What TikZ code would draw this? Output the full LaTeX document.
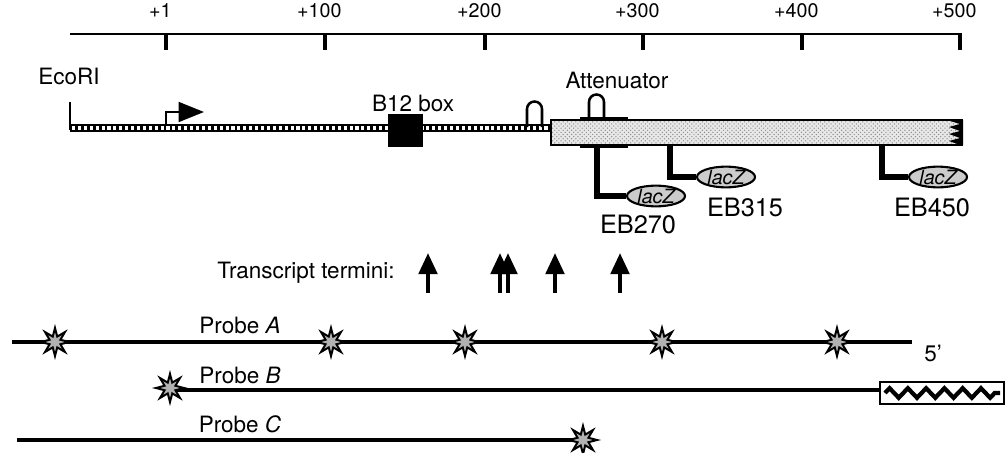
\documentclass[tikz,border=0pt]{standalone}
\usepackage{fontspec}
\setmainfont{TeX Gyre Heros}
\usepackage{tikz}
\usetikzlibrary{arrows.meta,positioning,shapes.geometric,patterns,decorations.pathmorphing}

\begin{document}
\begin{tikzpicture}[
  x=0.025cm, y=-0.025cm,
  axisfont/.style={font=\fontsize{14}{16}\selectfont},
  lbl/.style={font=\fontsize{16}{19}\selectfont, inner sep=0pt},
  eblbl/.style={font=\fontsize{18}{21}\selectfont, inner sep=0pt},
  lacz/.style={draw, ellipse, line width=1.5pt, fill=gray!40, minimum width=1.45cm, minimum height=0.46cm, inner sep=0pt, font=\itshape\fontsize{14}{16}\selectfont},
  fusion/.style={line width=4pt},
  hairpin/.style={line width=1.8pt},
  probe/.style={line width=3.3pt},
  label32/.style={draw, star, star points=8, star point ratio=2.4, minimum size=20pt, inner sep=0pt, fill=gray!60, line width=1.4pt},
  termarrow/.style={line width=3pt, -{Triangle[width=13pt, length=15pt]}}
]
\useasboundingbox (0,0) rectangle (1006,453);

% coordinate axis
\draw[line width=1.6pt] (70,34) -- (962,34);
\foreach \x/\t in {166/+1, 325/+100, 485/+200, 643/+300, 802/+400, 960/+500}
  \draw[line width=2.2pt] (\x,34) -- (\x,50) node[axisfont, pos=0, above=7pt, xshift=-4pt] {\t};

% upstream DNA
\node[lbl] (ecori) at (69,76) {EcoRI};
\draw[line width=1.4pt] (70,102) -- (70,130);
\draw[line width=5pt] (70,128) -- (552,128);
\draw[line width=2.2pt, white, dash pattern=on 2.2pt off 2pt] (72,128) -- (550,128);
\draw[line width=1.8pt, -{Triangle[width=14pt, length=18pt]}] (166,126) -- (166,112) -- (204,112);
\fill (388,114) rectangle (423,147);
\node[lbl] (b12) at (413,103) {B12 box};
\draw[hairpin] (527,127) -- (527,109) arc[start angle=180, end angle=360, radius=7.5] -- (542,127);

% gene
\fill[gray!18] (551,120) rectangle (963,145);
\fill[pattern=crosshatch dots, pattern color=gray!90] (551,120) rectangle (963,145);
\fill (963,120) -- (947,120) -- (960,124) -- (949,127) -- (960,131) -- (949,134) -- (960,138) -- (949,141) -- (960,145) -- (963,145) -- cycle;
\draw[line width=1.6pt] (963,120) -- (551,120) -- (551,145) -- (963,145);
\draw[line width=3.2pt] (580,119) -- (628,119) (580,146) -- (628,146);
\draw[hairpin] (589,117) -- (589,102) arc[start angle=180, end angle=360, radius=7.5] -- (604,117);
\node[lbl] (atten) at (617,80) {Attenuator};

% lacZ fusions
\node[lacz] (lacz270) at (656,196) {lacZ};
\node[lacz] (lacz315) at (726,177) {lacZ};
\node[lacz] (lacz450) at (938,177) {lacZ};
\draw[fusion] (597,147) |- (lacz270.west);
\draw[fusion] (670,146) |- (lacz315.west);
\draw[fusion] (882,146) |- (lacz450.west);
\node[eblbl] (eb270) at (638,224) {EB270};
\node[eblbl] (eb315) at (745,207) {EB315};
\node[eblbl] (eb450) at (932,207) {EB450};

% transcript termini
\node[lbl] (termini) at (306,273) {Transcript termini:};
\foreach \x in {428,500,508,555,620}
  \draw[termarrow] (\x,293) -- (\x,253);

% probes
\draw[probe] (12,342) -- (912,342);
\foreach \x in {55,331,465,662,837}
  \node[label32] at (\x,342) {};
\node[lbl] (probeA) at (240,325) {Probe \textit{A}};
\node[lbl] (fiveend) at (933,353) {5'};

\draw[probe] (170,390) -- (880,390);
\node[label32] (starB) at (170,388) {};
\draw[line width=1.8pt, fill=white] (880,382) rectangle (1004,404);
\draw[line width=3pt, decorate, decoration={zigzag, segment length=13pt, amplitude=3.4pt}] (885,393) -- (1000,393);
\node[lbl] (probeB) at (240,375) {Probe \textit{B}};

\draw[probe] (17,440) -- (583,440);
\node[label32] (starC) at (583,440) {};
\node[lbl] (probeC) at (240,424) {Probe \textit{C}};
\end{tikzpicture}
\end{document}
